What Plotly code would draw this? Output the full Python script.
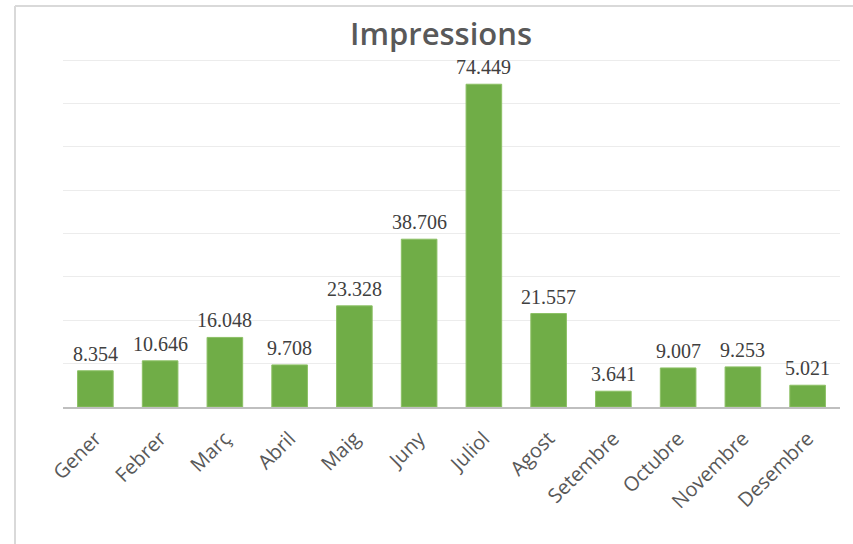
import plotly.graph_objects as go

months = ["Gener", "Febrer", "Març", "Abril", "Maig", "Juny", "Juliol",
          "Agost", "Setembre", "Octubre", "Novembre", "Desembre"]
impressions = [8.354, 10.646, 16.048, 9.708, 23.328, 38.706, 74.449,
               21.557, 3.641, 9.007, 9.253, 5.021]
labels = ["8.354", "10.646", "16.048", "9.708", "23.328", "38.706", "74.449",
          "21.557", "3.641", "9.007", "9.253", "5.021"]

fig = go.Figure(go.Bar(
    x=months, y=impressions,
    marker=dict(color="#70AD47", line=dict(color="#8cc065", width=1)),
    hoverinfo="x+y",
))

for m, v, t in zip(months, impressions, labels):
    fig.add_annotation(x=m, y=v, text=t, showarrow=False, yanchor="bottom",
                       yshift=4,
                       font=dict(family="Liberation Serif", size=20, color="#404040"))

W, H = 853, 544
L, R, T, B = 63, 13, 58, 137
pw, ph = W - L - R, H - T - B

def px_x(p):
    return (p - L) / pw

def px_y(p):
    return (H - B - p) / ph

fig.update_layout(
    width=W, height=H,
    margin=dict(l=L, r=R, t=T, b=B, autoexpand=False),
    paper_bgcolor="white", plot_bgcolor="white",
    bargap=0.45,
    showlegend=False,
    title=dict(text="Impressions", x=441 / W, xanchor="center",
               y=1 - 34 / H, yanchor="middle",
               font=dict(family="Open Sans", size=31, color="#595959", weight=600)),
    xaxis=dict(tickangle=-45, showgrid=False, showline=True,
               linecolor="#bfbfbf", linewidth=2, ticks="", automargin=False,
               ticklabelstandoff=10,
               tickfont=dict(family="Open Sans", size=20, color="#595959")),
    yaxis=dict(range=[0, 80.5], dtick=10, showticklabels=False,
               gridcolor="#ececec", gridwidth=1, zeroline=False,
               showline=False, automargin=False),
    shapes=[
        dict(type="line", xref="paper", yref="paper",
             x0=px_x(15), x1=px_x(853), y0=px_y(6), y1=px_y(6),
             line=dict(color="#d9d9d9", width=2)),
        dict(type="line", xref="paper", yref="paper",
             x0=px_x(15), x1=px_x(15), y0=px_y(6), y1=px_y(544),
             line=dict(color="#d9d9d9", width=2)),
    ],
)

fig.write_html("out.html", config={"displayModeBar": False},
               post_script="document.body.style.margin='0';document.body.style.overflow='hidden';")
